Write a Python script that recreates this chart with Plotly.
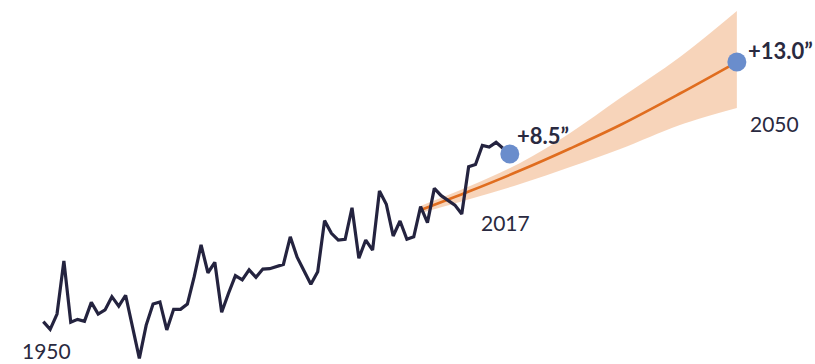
import plotly.graph_objects as go

# Observed annual values (inches), 1950-2017
years = list(range(1950, 2018))
values = [0.30, -0.08, 0.67, 3.27, 0.27, 0.41, 0.32, 1.24, 0.67, 0.87,
          1.52, 1.06, 1.59, 0.05, -1.50, 0.13, 1.16, 1.26, -0.11, 0.90,
          0.90, 1.16, 2.50, 4.05, 2.69, 3.20, 0.76, 1.69, 2.55, 2.34,
          2.83, 2.47, 2.87, 2.89, 3.00, 3.10, 4.45, 3.45, 2.79, 2.13,
          2.74, 5.24, 4.62, 4.29, 4.33, 5.87, 3.40, 4.29, 3.80, 6.69,
          6.04, 4.49, 5.22, 4.33, 4.45, 5.93, 5.14, 6.82, 6.46, 6.25,
          6.00, 5.56, 7.88, 7.99, 8.92, 8.84, 9.07, 8.78]

# Projection (central line and uncertainty band)
proj_years = [2005, 2012.2, 2019.5, 2026.8, 2034.1, 2042.8, 2051.1]
proj_mid = [5.76, 6.69, 7.69, 8.77, 9.92, 11.46, 13.0]
proj_upper = [5.96, 6.93, 8.06, 9.53, 11.24, 13.25, 15.50]
proj_lower = [5.61, 6.30, 7.03, 7.86, 8.74, 9.92, 10.75]

# Highlight markers
dot_years = [2018.0, 2051.1]
dot_values = [8.5, 13.0]
dot_labels = ["+8.5\u201d", "+13.0\u201d"]

# Year labels
year_labels = ["1950", "2017", "2050"]

NAVY = "#24233f"
ORANGE = "#e06d1f"
BAND = "rgba(244,196,160,0.72)"
BLUE = "#6a8dcc"
TEXT = "#2a2a40"

fig = go.Figure()

fig.add_trace(go.Scatter(x=proj_years, y=proj_lower, mode="lines",
                         line=dict(width=0, shape="spline"), hoverinfo="skip"))
fig.add_trace(go.Scatter(x=proj_years, y=proj_upper, mode="lines",
                         line=dict(width=0, shape="spline"), fill="tonexty",
                         fillcolor=BAND, hoverinfo="skip"))
fig.add_trace(go.Scatter(x=proj_years, y=proj_mid, mode="lines",
                         line=dict(color=ORANGE, width=2.6, shape="spline")))
fig.add_trace(go.Scatter(x=years, y=values, mode="lines",
                         line=dict(color=NAVY, width=3.2)))
fig.add_trace(go.Scatter(x=dot_years, y=dot_values, mode="markers",
                         marker=dict(color=BLUE, size=19)))

W, H = 815, 364
def px(xp, yp):
    return xp / W, 1 - yp / H

label_pos = [(543, 135), (780, 51)]
for (xp, yp), t in zip(label_pos, dot_labels):
    x, y = px(xp, yp)
    fig.add_annotation(x=x, y=y, xref="paper", yref="paper", text=f"<b>{t}</b>",
                       showarrow=False, xanchor="center", yanchor="middle",
                       font=dict(family="Lato", size=22, color=TEXT))

year_pos = [(46.5, 350), (505.5, 222), (774, 123)]
for (xp, yp), t in zip(year_pos, year_labels):
    x, y = px(xp, yp)
    fig.add_annotation(x=x, y=y, xref="paper", yref="paper", text=t,
                       showarrow=False, xanchor="center", yanchor="middle",
                       font=dict(family="Lato", size=21, color=TEXT))

fig.update_xaxes(visible=False, range=[1943.688, 2062.49], fixedrange=True)
fig.update_yaxes(visible=False, range=[-1.774, 16.034], fixedrange=True)
fig.update_layout(width=W, height=H, autosize=False,
                  margin=dict(l=0, r=0, t=0, b=0),
                  paper_bgcolor="white", plot_bgcolor="white",
                  showlegend=False)

fig.write_html("out.html", config={"displayModeBar": False},
               post_script="document.body.style.margin='0';document.body.style.overflow='hidden';")
